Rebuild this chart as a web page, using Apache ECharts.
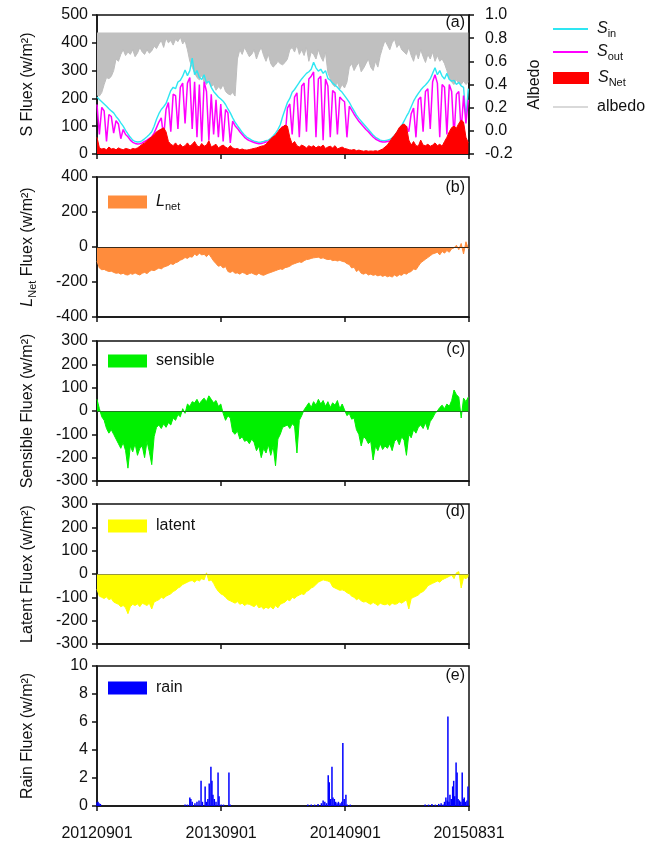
<!DOCTYPE html>
<html>
<head>
<meta charset="utf-8">
<title>Energy fluxes 2012-2015</title>
<script src="https://cdn.jsdelivr.net/npm/echarts@6/dist/echarts.min.js"></script>
<style>
    html, body { margin: 0; padding: 0; background: #fff; }
    #chart { width: 646px; height: 843px; }
</style>
</head>
<body>
<div id="chart"></div>
<script>
// one value every 7 days from 20120901 (day 0) on
const dateLabels = ['20120901', '20130901', '20140901', '20150831']

const sIn = [
    205, 196, 188, 180, 172, 163, 155, 148, 135, 125, 112, 100, 85,
    72, 60, 50, 45, 43, 44, 48, 55, 62, 70, 80, 100, 125,
    145, 160, 170, 182, 205, 228, 240, 235, 259, 265, 280, 302, 282,
    300, 345, 285, 300, 275, 268, 285, 255, 262, 240, 225, 215, 205,
    198, 190, 178, 162, 148, 130, 115, 102, 90, 78, 68, 60, 55,
    50, 46, 44, 42, 43, 45, 48, 50, 56, 65, 75, 88, 105,
    135, 160, 185, 200, 222, 232, 245, 258, 270, 280, 290, 296, 305,
    330, 310, 298, 305, 290, 300, 272, 265, 255, 248, 240, 230, 222,
    210, 198, 186, 170, 155, 140, 128, 118, 108, 98, 88, 78, 68,
    60, 55, 50, 48, 48, 50, 52, 58, 66, 78, 90, 102, 118,
    135, 150, 170, 190, 205, 218, 230, 240, 248, 258, 270, 290, 310,
    285, 300, 280, 270, 290, 268, 262, 265, 250, 258, 245, 240, 130,
    235
]
const sOut = [
    178, 70, 168, 155, 45, 142, 135, 75, 120, 108, 55, 88, 70,
    62, 50, 42, 38, 36, 37, 40, 45, 50, 56, 62, 75, 95,
    115, 130, 60, 160, 185, 80, 215, 210, 90, 240, 255, 110, 255,
    275, 90, 260, 60, 250, 45, 260, 225, 50, 215, 70, 195, 60,
    180, 45, 160, 148, 40, 118, 102, 92, 80, 70, 60, 53, 48,
    45, 41, 39, 37, 38, 40, 43, 44, 49, 56, 62, 70, 82,
    100, 60, 165, 180, 70, 205, 220, 60, 245, 255, 80, 270, 280,
    295, 60, 270, 280, 50, 270, 245, 60, 228, 220, 70, 205, 195,
    188, 60, 172, 158, 143, 130, 118, 108, 98, 88, 80, 70, 61,
    54, 49, 45, 43, 43, 45, 47, 50, 56, 62, 70, 78, 88,
    100, 80, 145, 165, 60, 195, 205, 80, 225, 235, 90, 260, 285,
    255, 60, 250, 240, 70, 250, 225, 60, 215, 225, 80, 210, 110,
    195
]
const sNet = [
    60, 22, 18, 20, 15, 25, 18, 20, 15, 22, 18, 15, 20,
    18, 15, 20, 18, 22, 28, 35, 40, 48, 55, 62, 70, 80,
    85, 90, 94, 80, 45, 35, 30, 40, 28, 35, 25, 30, 40,
    28, 35, 45, 30, 25, 38, 28, 32, 48, 25, 30, 35, 22,
    28, 32, 25, 20, 30, 22, 18, 20, 15, 18, 15, 14, 16,
    18, 20, 22, 25, 28, 30, 35, 45, 55, 62, 68, 80, 92,
    97, 104, 100, 60, 36, 45, 30, 25, 32, 28, 22, 30, 25,
    30, 22, 28, 25, 32, 20, 25, 28, 22, 30, 18, 22, 25,
    20, 18, 15, 14, 16, 12, 14, 12, 10, 12, 10, 11, 10,
    12, 10, 14, 18, 25, 32, 45, 58, 68, 80, 95, 104, 108,
    100, 50, 32, 45, 30, 28, 50, 32, 30, 35, 28, 32, 40,
    30, 35, 28, 45, 60, 80, 95, 100, 93, 110, 122, 115, 60,
    40
]
const albedo = [
    0.31, 0.30, 0.33, 0.40, 0.46, 0.45, 0.47, 0.52, 0.62, 0.60, 0.66, 0.70, 0.65,
    0.68, 0.66, 0.70, 0.64, 0.67, 0.72, 0.68, 0.66, 0.70, 0.67, 0.69, 0.73, 0.71,
    0.75, 0.78, 0.72, 0.80, 0.76, 0.78, 0.74, 0.79, 0.77, 0.81, 0.75, 0.78, 0.70,
    0.60, 0.55, 0.50, 0.46, 0.44, 0.48, 0.42, 0.40, 0.45, 0.38, 0.40, 0.35, 0.38,
    0.36, 0.40, 0.34, 0.32, 0.31, 0.33, 0.30, 0.62, 0.70, 0.66, 0.72, 0.68, 0.64,
    0.66, 0.70, 0.62, 0.68, 0.72, 0.65, 0.60, 0.66, 0.58, 0.55, 0.57, 0.60, 0.58,
    0.57, 0.59, 0.62, 0.70, 0.72, 0.68, 0.74, 0.66, 0.70, 0.65, 0.72, 0.60, 0.68,
    0.66, 0.62, 0.70, 0.64, 0.60, 0.68, 0.50, 0.45, 0.40, 0.38, 0.42, 0.36, 0.40,
    0.37, 0.42, 0.55, 0.58, 0.52, 0.56, 0.59, 0.51, 0.54, 0.58, 0.62, 0.55, 0.52,
    0.60, 0.55, 0.65, 0.72, 0.78, 0.74, 0.70, 0.76, 0.79, 0.72, 0.75, 0.70, 0.68,
    0.66, 0.72, 0.65, 0.60, 0.68, 0.62, 0.70, 0.64, 0.59, 0.66, 0.62, 0.68, 0.60,
    0.65, 0.60, 0.62, 0.58, 0.52, 0.45, 0.42, 0.40, 0.44, 0.41, 0.40, 0.43, 0.40,
    0.42
]
const lNet = [
    -80, -120, -130, -128, -135, -140, -138, -145, -150, -148, -155, -150, -158,
    -160, -152, -156, -148, -155, -160, -150, -145, -152, -140, -132, -135, -128,
    -120, -125, -115, -110, -105, -95, -100, -90, -85, -75, -70, -60, -65,
    -55, -58, -40, -50, -35, -45, -42, -55, -40, -60, -80, -95, -110,
    -105, -120, -112, -140, -145, -138, -150, -148, -155, -145, -150, -158, -152,
    -148, -155, -160, -150, -158, -162, -155, -150, -145, -140, -135, -130, -125,
    -128, -118, -115, -110, -100, -95, -90, -85, -88, -78, -72, -70, -65,
    -62, -60, -58, -65, -62, -68, -72, -70, -78, -75, -80, -76, -82,
    -85, -95, -100, -120, -115, -140, -130, -150, -155, -148, -160, -155, -162,
    -158, -165, -160, -168, -162, -170, -165, -172, -160, -168, -158, -162, -150,
    -155, -145, -140, -125, -130, -110, -90, -80, -70, -60, -50, -40, -35,
    -30, -45, -25, -35, -20, -30, -10, -5, 10, -15, 20, -40, 30,
    -10
]
const sensible = [
    50, 10, -25, -40, -75, -95, -80, -100, -120, -140, -160, -135, -170,
    -245, -150, -175, -140, -190, -160, -150, -200, -130, -175, -230, -110, -70,
    -60, -75, -55, -70, -50, -60, -30, -40, -15, -25, 10, -10, 30,
    20, 40, 35, 50, 30, 45, 55, 40, 65, 50, 35, 45, 20,
    30, -10, -40, -20, -30, -90, -100, -85, -120, -110, -130, -125, -140,
    -120, -135, -170, -150, -200, -160, -180, -145, -190, -150, -235, -120, -100,
    -70, -65, -60, -75, -55, -65, -180, -40, -20, 5, 20, 35, 15,
    40, 25, 50, 30, 45, 20, 40, 15, 35, 25, 45, 10, 30,
    5, -20, -10, -35, -30, -80, -100, -150, -110, -120, -140, -130, -210,
    -150, -170, -140, -165, -150, -160, -140, -170, -130, -120, -145, -110, -125,
    -190, -100, -115, -80, -95, -70, -60, -75, -50, -80, -45, -30, -10,
    0, 15, 25, 10, 30, 20, 45, 90, 70, 60, -30, 55, 40,
    60
]
const latent = [
    -65, -95, -100, -105, -98, -110, -105, -120, -125, -130, -140, -135, -145,
    -170, -140, -130, -135, -128, -140, -125, -130, -135, -125, -150, -120, -115,
    -110, -100, -105, -95, -90, -85, -75, -70, -60, -55, -45, -40, -35,
    -30, -28, -35, -25, -30, -20, -25, 5, -30, -25, -40, -60, -75,
    -85, -90, -100, -110, -115, -120, -125, -118, -130, -125, -135, -128, -130,
    -135, -140, -130, -145, -140, -150, -142, -148, -140, -150, -135, -145, -130,
    -125, -120, -110, -115, -100, -105, -95, -90, -85, -88, -75, -70, -60,
    -55, -45, -35, -30, -25, -28, -30, -35, -55, -60, -65, -70, -68,
    -72, -80, -85, -95, -100, -110, -105, -115, -120, -118, -125, -130, -122,
    -128, -135, -125, -130, -132, -128, -135, -125, -130, -128, -120, -125, -118,
    -110, -150, -105, -100, -95, -90, -80, -75, -65, -50, -45, -40, -35,
    -30, -35, -25, -20, -15, -10, -5, -20, 5, 10, -60, -15, -20,
    -10
]
// rain is sparse: day number and value
const rainDays = [
    0, 3, 6, 10,
    259, 266, 273, 276, 280, 288, 294, 300, 306, 310, 318, 322, 326, 330, 335, 338,
    341, 345, 350, 356, 359, 365, 372, 388, 392,
    620, 630, 640, 650, 660, 665, 670, 675, 680, 683, 687, 691, 694, 698, 702, 706,
    710, 715, 720, 723, 727, 732, 736, 745,
    965, 975, 985, 995, 1005, 1012, 1018, 1022, 1026, 1030, 1032, 1035, 1038, 1042,
    1046, 1049, 1052, 1056, 1059, 1062, 1066, 1070, 1074, 1077, 1080, 1084, 1088, 1091
]
const rainValues = [
    0.25, 0.3, 0.2, 0.15,
    0.1, 0.1, 0.6, 0.5, 0.3, 0.2, 0.3, 0.4, 1.8, 0.3, 1.4, 0.3, 0.5, 1.6, 2.8, 1.8,
    0.8, 0.5, 0.3, 2.4, 0.7, 0.1, 0.1, 2.4, 0.1,
    0.1, 0.1, 0.1, 0.15, 0.2, 0.4, 0.3, 0.2, 2.2, 1.7, 0.5, 2.8, 0.6, 0.5, 0.3, 0.2,
    0.3, 0.2, 0.3, 4.5, 0.5, 0.8, 0.1, 0.1,
    0.1, 0.1, 0.15, 0.1, 0.15, 0.2, 0.1, 0.3, 0.6, 0.4, 6.4, 0.3, 0.8, 0.5,
    1.4, 1.8, 0.7, 3.1, 2.4, 0.5, 0.4, 0.3, 2.4, 0.5, 0.6, 0.3, 0.4, 1.4
]

const weekly = vals => vals.map((v, i) => [i * 7, v])
const rain = rainDays.map((d, i) => [d, rainValues[i]])

const ink = '#111'
const font = 'Liberation Sans'
const subRich = {
    i: { fontStyle: 'italic', fontSize: 16, lineHeight: 20, fontFamily: font, color: ink },
    s: { fontSize: 11, lineHeight: 11, verticalAlign: 'bottom', fontFamily: font, color: ink },
    n: { fontSize: 16, lineHeight: 20, fontFamily: font, color: ink }
}
const legendText = {
    Sin: '{i|S}{s|in}', Sout: '{i|S}{s|out}', SNet: '{i|S}{s|Net}', albedo: '{n|albedo}',
    Lnet: '{i|L}{s|net}', sensible: '{n|sensible}', latent: '{n|latent}', rain: '{n|rain}'
}

let myChart = echarts.init(document.getElementById('chart'))

const tops = [15, 177, 341, 504, 666]
const heights = [139, 140, 140, 140, 140]

function makeX(i) {
    return {
        type: 'value', gridIndex: i, min: 0, max: 1094, interval: 365,
        axisLine: { onZero: false, lineStyle: { color: ink, width: 1.5 } },
        axisTick: { length: 5, lineStyle: { color: ink, width: 1.5 } },
        splitLine: { show: false },
        axisLabel: {
            show: i === 4, fontSize: 16, color: ink, margin: 20,
            formatter: v => dateLabels[Math.round(v / 365)]
        }
    }
}
function makeY(i, min, max, interval, name, extra) {
    return Object.assign({
        type: 'value', gridIndex: i, min, max, interval,
        name, nameLocation: 'middle', nameGap: 59, nameRotate: 90,
        nameTextStyle: { fontSize: 16, color: ink, lineHeight: 20, rich: subRich },
        axisLine: { show: true, onZero: false, lineStyle: { color: ink, width: 1.5 } },
        axisTick: { show: true, length: 5, lineStyle: { color: ink, width: 1.5 } },
        splitLine: { show: false },
        axisLabel: { fontSize: 16, color: ink, margin: 9 }
    }, extra || {})
}
function makeLegend(name, left, cy, extra) {
    return Object.assign({
        data: [name], left, top: cy - 10, padding: 0, itemGap: 0,
        itemWidth: 39, itemHeight: 13, icon: 'rect', selectedMode: false,
        textStyle: { fontSize: 16, color: ink, lineHeight: 20, rich: subRich, padding: [0, 0, 0, 4] },
        formatter: n => legendText[n]
    }, extra || {})
}
function zeroLine(color) {
    return {
        silent: true, symbol: ['none', 'none'], label: { show: false },
        lineStyle: { color, width: 1.2, type: 'solid' }, data: [{ yAxis: 0 }]
    }
}
function fluxArea(name, idx, vals, color, zeroColor) {
    return {
        name, type: 'line', xAxisIndex: idx, yAxisIndex: idx + 1, data: weekly(vals),
        symbol: 'none', lineStyle: { color, width: 1 }, itemStyle: { color },
        areaStyle: { color, opacity: 1 }, markLine: zeroLine(zeroColor)
    }
}

let option = {
    animation: false,
    textStyle: { fontFamily: font },
    grid: tops.map((t, i) => ({
        left: 97, top: t, width: 372, height: heights[i],
        show: true, borderColor: ink, borderWidth: 1.5
    })),
    xAxis: [0, 1, 2, 3, 4].map(makeX),
    yAxis: [
        makeY(0, 0, 500, 100, 'S Fluex (w/m²)'),
        makeY(0, -0.2, 1.0, 0.2, 'Albedo', {
            position: 'right', nameGap: 56,
            axisLabel: { fontSize: 16, color: ink, margin: 16, formatter: v => v.toFixed(1) }
        }),
        makeY(1, -400, 400, 200, '{i|L}{s|Net} Fluex (w/m²)'),
        makeY(2, -300, 300, 100, 'Sensible Fluex (w/m²)'),
        makeY(3, -300, 300, 100, 'Latent Fluex (w/m²)'),
        makeY(4, 0, 10, 2, 'Rain Fluex (w/m²)')
    ],
    legend: [
        makeLegend('Sin', 553, 29, { itemWidth: 35, itemHeight: 2 }),
        makeLegend('Sout', 553, 52, { itemWidth: 35, itemHeight: 2 }),
        makeLegend('SNet', 553, 78, { itemWidth: 36, itemHeight: 12 }),
        makeLegend('albedo', 553, 107, { itemWidth: 35, itemHeight: 2, itemStyle: { color: '#d9d9d9' } }),
        makeLegend('Lnet', 108, 202),
        makeLegend('sensible', 108, 361),
        makeLegend('latent', 108, 526),
        makeLegend('rain', 108, 688)
    ],
    graphic: ['(a)', '(b)', '(c)', '(d)', '(e)'].map((t, i) => ({
        type: 'text', right: 181, top: [15, 180, 342, 504, 668][i],
        style: { text: t, font: '16px "Liberation Sans"', fill: ink }
    })),
    series: [
        {
            name: 'albedo', type: 'line', xAxisIndex: 0, yAxisIndex: 1, data: weekly(albedo),
            symbol: 'none', z: 1, lineStyle: { color: '#bdbdbd', width: 1 }, itemStyle: { color: '#bdbdbd' },
            areaStyle: { color: '#c0c0c0', opacity: 1, origin: 0.85 }
        },
        {
            name: 'Sin', type: 'line', xAxisIndex: 0, yAxisIndex: 0, data: weekly(sIn),
            symbol: 'none', z: 2, lineStyle: { color: '#2ee6f2', width: 1.4 }, itemStyle: { color: '#2ee6f2' }
        },
        {
            name: 'Sout', type: 'line', xAxisIndex: 0, yAxisIndex: 0, data: weekly(sOut),
            symbol: 'none', z: 3, lineStyle: { color: '#ff00ff', width: 1.5 }, itemStyle: { color: '#ff00ff' }
        },
        {
            name: 'SNet', type: 'line', xAxisIndex: 0, yAxisIndex: 0, data: weekly(sNet),
            symbol: 'none', z: 4, lineStyle: { color: '#ff0000', width: 1 }, itemStyle: { color: '#ff0000' },
            areaStyle: { color: '#ff0000', opacity: 1 }
        },
        fluxArea('Lnet', 1, lNet, '#ff8c3c', '#3b2a1a'),
        fluxArea('sensible', 2, sensible, '#00f000', '#1f7a1f'),
        fluxArea('latent', 3, latent, '#ffff00', '#9a9a3a'),
        {
            name: 'rain', type: 'bar', xAxisIndex: 4, yAxisIndex: 5, data: rain,
            barWidth: 1.5, itemStyle: { color: '#0000ff' }
        }
    ]
}
myChart.setOption(option)
window.addEventListener('resize', function () {
    myChart.resize()
})
</script>
</body>
</html>
